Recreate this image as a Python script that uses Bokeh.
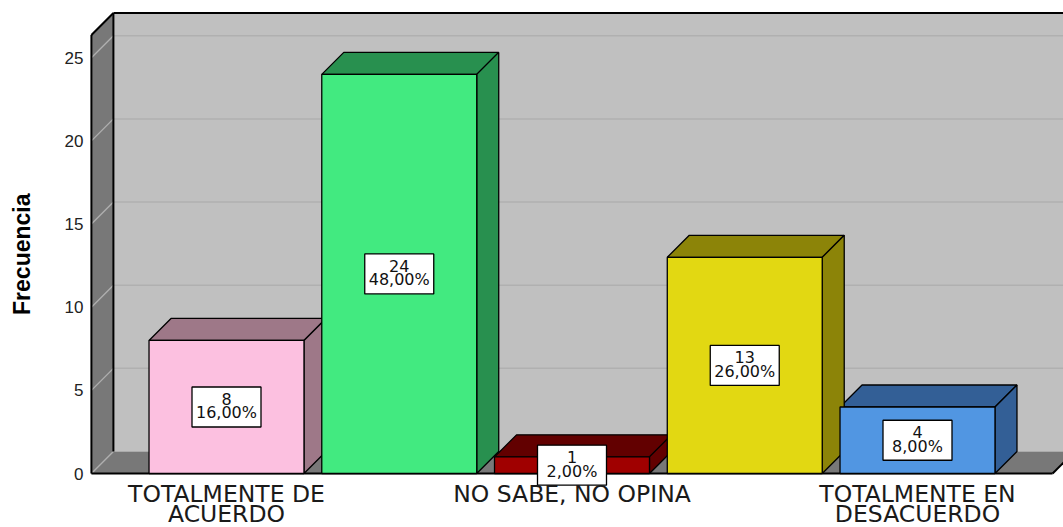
import math
from bokeh.plotting import figure
from bokeh.models import ColumnDataSource, FixedTicker, Range1d
from bokeh.core.properties import value
from bokeh.embed import file_html
from bokeh.resources import INLINE

# ---------------- data ----------------
categories = ["TOTALMENTE DE ACUERDO", "DE ACUERDO", "NO SABE, NO OPINA",
              "EN DESACUERDO", "TOTALMENTE EN DESACUERDO"]
tick_labels = ["TOTALMENTE DE\nACUERDO", "DE ACUERDO", "NO SABE, NO OPINA",
               "EN DESACUERDO", "TOTALMENTE EN\nDESACUERDO"]
shown_ticks = [0, 2, 4]
counts = [8, 24, 1, 13, 4]
percents = ["16,00%", "48,00%", "2,00%", "26,00%", "8,00%"]
front_colors = ["#fcc0e0", "#42ea80", "#a00000", "#e2d812", "#5196e2"]
shade_colors = ["#9e7888", "#28904f", "#620000", "#8c8408", "#335f96"]
y_ticks = [0, 5, 10, 15, 20, 25]
y_title = "Frecuencia"

# ---------------- geometry ----------------
W, H = 1063, 527
PX_X = 172.75             # px per category
PX_Y = 16.63              # px per count unit
ZERO_PX = 473             # y pixel of value 0 (from top)
FIRST_PX = 226            # x pixel of first category
BW = 0.897                # bar width (category units)
DX = 22 / PX_X            # depth offset along x
DY = 22 / PX_Y            # depth offset along y
X0 = -0.782
X1 = 4.782
YTOP = 26.37

x_start = -FIRST_PX / PX_X
x_end = x_start + W / PX_X
y_end = ZERO_PX / PX_Y
y_start = -(H - ZERO_PX) / PX_Y

p = figure(width=W, height=H,
           x_range=Range1d(x_start, x_end), y_range=Range1d(y_start, y_end),
           output_backend="svg", toolbar_location=None,
           min_border_left=0, min_border_right=0, min_border_top=0, min_border_bottom=0)
p.outline_line_color = None
p.xgrid.visible = False
p.ygrid.visible = False
p.xaxis.visible = False
p.background_fill_color = "white"
p.border_fill_color = "white"

WALL = "#c0c0c0"
DARK = "#787878"

# back wall
p.quad(left=[X0 + DX], right=[X1 + DX], bottom=[DY], top=[YTOP + DY],
       fill_color=WALL, line_color=None)
# back wall gridlines
gy = [t + DY for t in y_ticks[1:]]
p.segment(x0=[X0 + DX] * len(gy), y0=gy, x1=[X1 + DX] * len(gy), y1=gy,
          line_color="#b0b0b0", line_width=1.5)
# left side wall
p.patch([X0, X0 + DX, X0 + DX, X0], [0, DY, YTOP + DY, YTOP],
        fill_color=DARK, line_color=None)
# floor
p.patch([X0, X1, X1 + DX, X0 + DX], [0, 0, DY, DY],
        fill_color=DARK, line_color=None)
# side-wall diagonal gridlines
p.segment(x0=[X0] * len(y_ticks), y0=y_ticks, x1=[X0 + DX] * len(y_ticks),
          y1=[t + DY for t in y_ticks], line_color="#b0b0b0", line_width=1.3)
# black frame edges
p.multi_line(
    xs=[[X0 + DX, X1 + DX], [X0 + DX, X0 + DX], [X0, X0 + DX], [X0, X0], [X0, X1], [X1, X1 + DX]],
    ys=[[YTOP + DY, YTOP + DY], [DY, YTOP + DY], [YTOP, YTOP + DY], [0, YTOP], [0, 0], [0, DY]],
    line_color="black", line_width=2)

# ---------------- bars ----------------
xs_c = list(range(len(counts)))
lefts = [i - BW / 2 for i in xs_c]
rights = [i + BW / 2 for i in xs_c]

top_xs, top_ys, side_xs, side_ys = [], [], [], []
for l, r, v in zip(lefts, rights, counts):
    top_xs.append([l, r, r + DX, l + DX])
    top_ys.append([v, v, v + DY, v + DY])
    side_xs.append([r, r + DX, r + DX, r])
    side_ys.append([0, DY, v + DY, v])

p.patches(xs=top_xs, ys=top_ys, fill_color=shade_colors, line_color="black", line_width=1.3)
p.patches(xs=side_xs, ys=side_ys, fill_color=shade_colors, line_color="black", line_width=1.3)
p.quad(left=lefts, right=rights, bottom=[0] * len(counts), top=counts,
       fill_color=front_colors, line_color="black", line_width=1.3)

# ---------------- value labels ----------------
lab_src = ColumnDataSource(dict(
    x=xs_c,
    y=[v / 2 for v in counts],
    count=[str(c) for c in counts],
    pct=percents,
))
p.rect(x="x", y="y", width=69, height=40, width_units="screen", height_units="screen",
       source=lab_src, fill_color="white", line_color="black", line_width=1.3)
p.text(x="x", y="y", text="count", source=lab_src, y_offset=-8,
       text_align="center", text_baseline="alphabetic",
       text_font=value("DejaVu Sans"), text_font_size="16px", text_color="#111111")
p.text(x="x", y="y", text="pct", source=lab_src, y_offset=6,
       text_align="center", text_baseline="alphabetic",
       text_font=value("DejaVu Sans"), text_font_size="16px", text_color="#111111")

# ---------------- category labels (under bars, two lines) ----------------
line_gap = 19.5 / PX_Y
first_base = -20.5 / PX_Y
cx, cy, ct = [], [], []
for i in shown_ticks:
    for k, line in enumerate(tick_labels[i].split("\n")):
        cx.append(i)
        cy.append(first_base - k * line_gap)
        ct.append(line)
p.text(x=cx, y=cy, text=ct, text_align="center", text_baseline="alphabetic",
       text_font=value("DejaVu Sans"), text_font_size="23.5px", text_color="#1a1a1a")

# ---------------- y axis (drawn at the front wall edge) ----------------
ya = p.yaxis[0]
ya.fixed_location = X0
ya.ticker = FixedTicker(ticks=y_ticks)
ya.bounds = (0, YTOP)
ya.axis_line_color = None
ya.major_tick_line_color = None
ya.minor_tick_line_color = None
ya.major_tick_in = 0
ya.major_tick_out = 0
ya.major_label_standoff = 8
ya.major_label_text_font = "Liberation Sans"
ya.major_label_text_font_size = "17px"
ya.major_label_text_color = "#222222"

# y-axis title, centred on the front plane (0 .. YTOP)
p.text(x=[x_start + 21 / PX_X], y=[YTOP / 2], text=[y_title], angle=math.pi / 2,
       text_align="center", text_baseline="middle",
       text_font=value("Liberation Sans"), text_font_style="bold",
       text_font_size="23px", text_color="black")

open("out.html", "w").write(file_html(p, INLINE))
